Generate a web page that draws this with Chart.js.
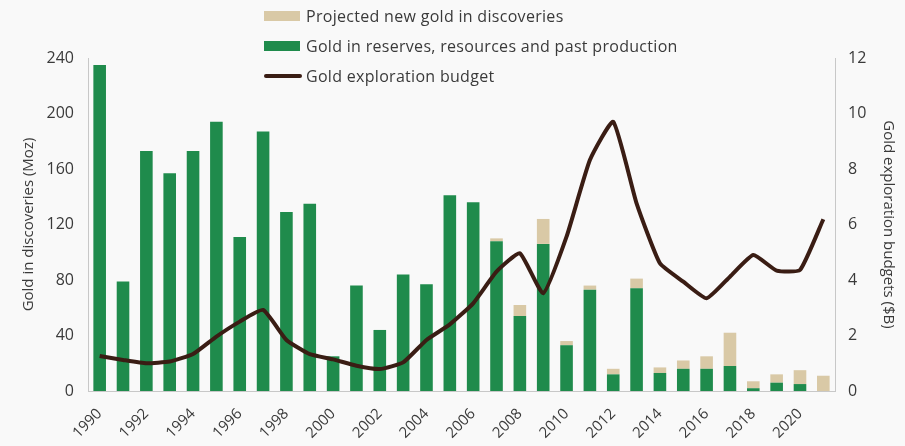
<!DOCTYPE html>
<html><head><meta charset="utf-8">
<script src="https://cdn.jsdelivr.net/npm/chart.js@4/dist/chart.umd.min.js"></script>
<style>
html,body{margin:0;padding:0;background:#f9f9f9;}
#wrap{position:relative;width:905px;height:446px;}
canvas{position:absolute;left:0;top:0;}
#legend{position:absolute;left:264px;top:1px;font-family:"Open Sans",sans-serif;font-size:16px;letter-spacing:0.3px;color:#3a3a3a;}
.li{display:flex;align-items:center;height:30px;}
.sw{width:36px;height:10px;margin-right:6px;}
.ln{width:38px;height:4px;margin-right:4px;border-radius:2px;}
</style></head>
<body><div id="wrap"><canvas id="c" width="905" height="446"></canvas>
<div id="legend">
<div class="li"><div class="sw" style="background:#d9c9a6"></div>Projected new gold in discoveries</div>
<div class="li"><div class="sw" style="background:#1f8b4c"></div>Gold in reserves, resources and past production</div>
<div class="li"><div class="ln" style="background:#3a1d14"></div>Gold exploration budget</div>
</div></div>
<script>
const years = [];
for (let y = 1990; y <= 2021; y++) years.push(String(y));
const reserves = [235,79,173,157,173,194,111,187,129,135,25,76,44,84,77,141,136,108,54,106,33,73,12,74,13,16,16,18,2,6,5,0];
const projected = [0,0,0,0,0,0,0,0,0,0,0,0,0,0,0,0,0,2,8,18,3,3,4,7,4,6,9,24,5,6,10,11];
const budget = [1.26,1.12,1.0,1.06,1.33,1.96,2.5,2.92,1.84,1.33,1.14,0.91,0.79,1.03,1.84,2.4,3.16,4.3,4.96,3.52,5.56,8.32,9.7,6.76,4.6,3.94,3.34,4.12,4.9,4.34,4.36,6.19];
const leftTicks = [0,40,80,120,160,200,240];
const rightTicks = [0,2,4,6,8,10,12];

const FONT = '"Open Sans", sans-serif';
const TXT = '#3a3a3a';
const bgPlugin = {id:'bg',beforeDraw(c){const x=c.ctx;x.save();x.fillStyle='#f9f9f9';x.fillRect(0,0,c.width,c.height);x.restore();}};

new Chart(document.getElementById('c'), {
  data: {
    labels: years,
    datasets: [
      {type:'bar', label:'Gold in reserves, resources and past production', data: reserves, backgroundColor:'#1f8b4c', yAxisID:'y', stack:'s', order:1, barPercentage:0.54, categoryPercentage:1},
      {type:'bar', label:'Projected new gold in discoveries', data: projected, backgroundColor:'#d9c9a6', yAxisID:'y', stack:'s', order:1, barPercentage:0.54, categoryPercentage:1},
      {type:'line', label:'Gold exploration budget', data: budget, borderColor:'#3a1d14', borderWidth:4, pointRadius:0, tension:0.15, yAxisID:'y1', order:0}
    ]
  },
  options: {
    responsive:false, animation:false,
    layout:{padding:{top:58,left:20,right:8,bottom:0}},
    plugins:{legend:{display:false}, tooltip:{enabled:false}},
    scales: {
      x: {
        stacked:true,
        grid:{display:false, drawTicks:false},
        border:{color:'#c8c8c8', width:1},
        ticks:{autoSkip:false, maxRotation:45, minRotation:45, color:TXT, font:{family:FONT,size:15}, padding:14,
          callback:function(v,i){return i%2===0 ? this.getLabelForValue(v) : '';}},
        afterFit(s){s.height = 55;}
      },
      y: {
        stacked:true, min:0, max:240,
        afterBuildTicks(s){s.ticks = leftTicks.map(v=>({value:v}));},
        grid:{display:false, drawTicks:false},
        border:{color:'#c8c8c8', width:1},
        ticks:{color:TXT, font:{family:FONT,size:16}, padding:14},
        title:{display:true, text:'Gold in discoveries (Moz)', color:TXT, font:{family:FONT,size:15}, padding:{top:0,bottom:0}},
        afterFit(s){s.width = 68;}
      },
      y1: {
        position:'right', min:0, max:12,
        afterBuildTicks(s){s.ticks = rightTicks.map(v=>({value:v}));},
        grid:{display:false, drawTicks:false},
        border:{color:'#c8c8c8', width:1},
        ticks:{color:TXT, font:{family:FONT,size:16}, padding:13},
        title:{display:true, text:'Gold exploration budgets ($B)', color:TXT, font:{family:FONT,size:15}, padding:{top:0,bottom:0}},
        afterFit(s){s.width = 62;}
      }
    }
  },
  plugins:[bgPlugin]
});
</script></body></html>
